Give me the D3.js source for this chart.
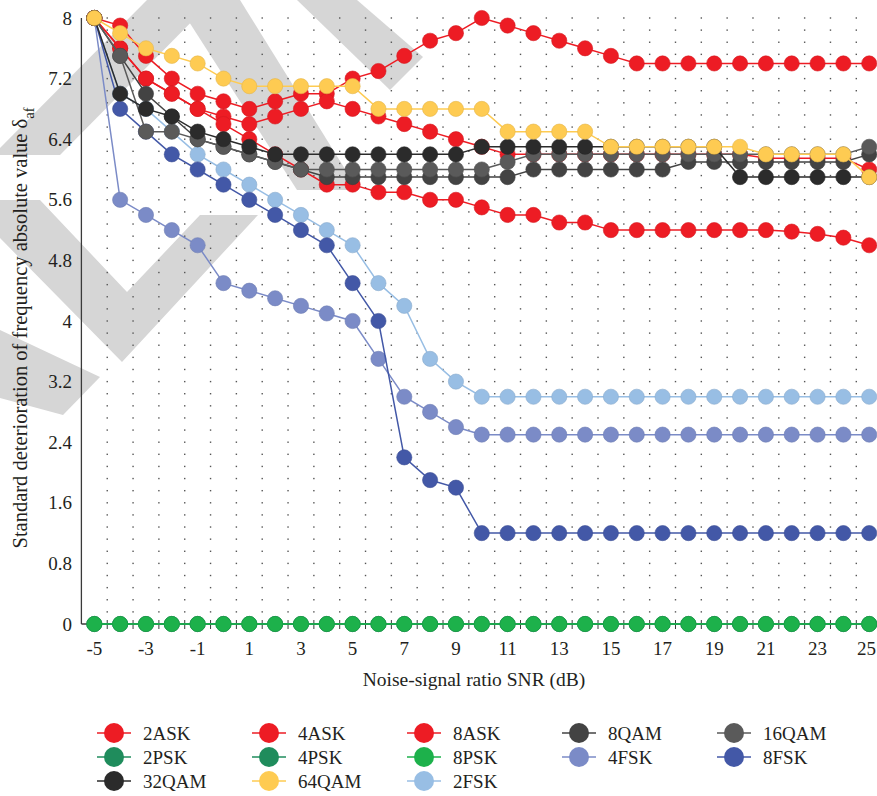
<!DOCTYPE html>
<html>
<head>
<meta charset="utf-8">
<script src="https://cdn.jsdelivr.net/npm/d3@7/dist/d3.min.js"></script>
<style>
  body { margin: 0; background: #fff; }
  svg { display: block; }
  svg text { font-family: "Liberation Serif", "DejaVu Serif", "Times New Roman", serif; fill: #231f20; }
</style>
</head>
<body>
<svg id="chart" width="877" height="796"></svg>
<script>
// SNR categories (dB)
const snr = [-5, -4, -3, -2, -1, 0, 1, 2, 3, 4, 5, 6, 7, 8, 9, 10, 11, 12, 13, 14, 15, 16, 17, 18, 19, 20, 21, 22, 23, 24, 25];

// Standard deterioration of frequency absolute value per modulation
const ask2  = [8.0, 7.9, 7.5, 7.2, 7.0, 6.9, 6.8, 6.9, 7.0, 7.0, 7.2, 7.3, 7.5, 7.7, 7.8, 8.0, 7.9, 7.8, 7.7, 7.6, 7.5, 7.4, 7.4, 7.4, 7.4, 7.4, 7.4, 7.4, 7.4, 7.4, 7.4];
const ask4  = [8.0, 7.6, 7.2, 7.0, 6.8, 6.7, 6.6, 6.7, 6.8, 6.9, 6.8, 6.7, 6.6, 6.5, 6.4, 6.3, 6.2, 6.2, 6.2, 6.2, 6.2, 6.2, 6.2, 6.2, 6.2, 6.2, 6.15, 6.15, 6.15, 6.15, 6.0];
const ask8  = [8.0, 7.6, 7.2, 7.0, 6.8, 6.6, 6.4, 6.2, 6.0, 5.8, 5.8, 5.7, 5.7, 5.6, 5.6, 5.5, 5.4, 5.4, 5.3, 5.3, 5.2, 5.2, 5.2, 5.2, 5.2, 5.2, 5.2, 5.18, 5.15, 5.1, 5.0];
const qam8  = [8.0, 7.5, 7.0, 6.7, 6.4, 6.3, 6.2, 6.1, 6.0, 5.9, 5.9, 5.9, 5.9, 5.9, 5.9, 5.9, 5.9, 6.0, 6.0, 6.0, 6.0, 6.0, 6.0, 6.1, 6.1, 6.1, 6.1, 6.1, 6.1, 6.1, 6.2];
const qam16 = [8.0, 7.5, 6.5, 6.5, 6.4, 6.3, 6.2, 6.1, 6.0, 6.0, 6.0, 6.0, 6.0, 6.0, 6.0, 6.0, 6.1, 6.2, 6.2, 6.2, 6.2, 6.2, 6.2, 6.2, 6.2, 6.2, 6.2, 6.2, 6.2, 6.2, 6.3];
const psk2  = [0, 0, 0, 0, 0, 0, 0, 0, 0, 0, 0, 0, 0, 0, 0, 0, 0, 0, 0, 0, 0, 0, 0, 0, 0, 0, 0, 0, 0, 0, 0];
const psk4  = [0, 0, 0, 0, 0, 0, 0, 0, 0, 0, 0, 0, 0, 0, 0, 0, 0, 0, 0, 0, 0, 0, 0, 0, 0, 0, 0, 0, 0, 0, 0];
const psk8  = [0, 0, 0, 0, 0, 0, 0, 0, 0, 0, 0, 0, 0, 0, 0, 0, 0, 0, 0, 0, 0, 0, 0, 0, 0, 0, 0, 0, 0, 0, 0];
const fsk4  = [8.0, 5.6, 5.4, 5.2, 5.0, 4.5, 4.4, 4.3, 4.2, 4.1, 4.0, 3.5, 3.0, 2.8, 2.6, 2.5, 2.5, 2.5, 2.5, 2.5, 2.5, 2.5, 2.5, 2.5, 2.5, 2.5, 2.5, 2.5, 2.5, 2.5, 2.5];
const fsk8  = [8.0, 6.8, 6.5, 6.2, 6.0, 5.8, 5.6, 5.4, 5.2, 5.0, 4.5, 4.0, 2.2, 1.9, 1.8, 1.2, 1.2, 1.2, 1.2, 1.2, 1.2, 1.2, 1.2, 1.2, 1.2, 1.2, 1.2, 1.2, 1.2, 1.2, 1.2];
const qam32 = [8.0, 7.0, 6.8, 6.7, 6.5, 6.4, 6.3, 6.2, 6.2, 6.2, 6.2, 6.2, 6.2, 6.2, 6.2, 6.3, 6.3, 6.3, 6.3, 6.3, 6.3, 6.3, 6.3, 6.3, 6.3, 5.9, 5.9, 5.9, 5.9, 5.9, 5.9];
const qam64 = [8.0, 7.8, 7.6, 7.5, 7.4, 7.2, 7.1, 7.1, 7.1, 7.1, 7.1, 6.8, 6.8, 6.8, 6.8, 6.8, 6.5, 6.5, 6.5, 6.5, 6.3, 6.3, 6.3, 6.3, 6.3, 6.3, 6.2, 6.2, 6.2, 6.2, 5.9];
const fsk2  = [8.0, 7.0, 6.8, 6.5, 6.2, 6.0, 5.8, 5.6, 5.4, 5.2, 5.0, 4.5, 4.2, 3.5, 3.2, 3.0, 3.0, 3.0, 3.0, 3.0, 3.0, 3.0, 3.0, 3.0, 3.0, 3.0, 3.0, 3.0, 3.0, 3.0, 3.0];

// Axis tick labels
const yTicks = [0, 0.8, 1.6, 2.4, 3.2, 4, 4.8, 5.6, 6.4, 7.2, 8];
const xTickLabels = [-5, -3, -1, 1, 3, 5, 7, 9, 11, 13, 15, 17, 19, 21, 23, 25];

// Series in legend order, with their colours
const legendOrder = [
  { name: "2ASK",  values: ask2,  color: "#ed1c24" },
  { name: "4ASK",  values: ask4,  color: "#ed1c24" },
  { name: "8ASK",  values: ask8,  color: "#ed1c24" },
  { name: "8QAM",  values: qam8,  color: "#434343" },
  { name: "16QAM", values: qam16, color: "#5a5a5a" },
  { name: "2PSK",  values: psk2,  color: "#1f8c5c" },
  { name: "4PSK",  values: psk4,  color: "#1f8c5c" },
  { name: "8PSK",  values: psk8,  color: "#1db14b" },
  { name: "4FSK",  values: fsk4,  color: "#7b8bc7" },
  { name: "8FSK",  values: fsk8,  color: "#4358a7" },
  { name: "32QAM", values: qam32, color: "#2b2b2b" },
  { name: "64QAM", values: qam64, color: "#fecb52" },
  { name: "2FSK",  values: fsk2,  color: "#98bee4" }
];
// Painting order (bottom to top)
const drawOrder = ["2PSK", "4PSK", "8PSK", "2FSK", "4FSK", "8FSK", "2ASK", "4ASK", "8ASK", "8QAM", "16QAM", "32QAM", "64QAM"];

const svg = d3.select("#chart");
const W = 877, H = 796;

// background watermark shapes
const wm = svg.append("g").attr("fill", "#d6d6d6");
const shapes = [
  [[147,0],[213,0],[60,155],[0,155],[0,148]],
  [[175,0],[240,0],[358,190],[297,190]],
  [[297,0],[357,0],[423,57],[390,90]],
  [[0,200],[40,200],[127,292],[200,215],[258,215],[122,362],[0,238]],
  [[0,330],[100,377],[63,415],[0,398]]
];
shapes.forEach(p => wm.append("polygon").attr("points", p.map(d => d.join(",")).join(" ")));

// scales
const x = d3.scaleBand().domain(snr).range([81.4, 81.4 + 31 * 25.83]).padding(0);
const cx = v => x(v) + x.bandwidth() / 2;
const y = d3.scaleLinear().domain([0, 8]).range([624, 18]);

// dotted grid: dots at category boundaries on every minor step
const grid = svg.append("g").attr("fill", "#555");
const minorSteps = d3.range(1, 51).map(i => i * 0.16);
snr.slice(1).forEach(s => {
  const gx = x(s);
  minorSteps.forEach(v => {
    grid.append("rect").attr("x", gx - 0.7).attr("y", y(v) - 0.7).attr("width", 1.4).attr("height", 1.4);
  });
});

// axes
const axisColor = "#3a3a3a";
svg.append("line").attr("x1", 81.4).attr("x2", 81.4).attr("y1", y(8)).attr("y2", y(0))
  .attr("stroke", axisColor).attr("stroke-width", 1.3);
svg.append("line").attr("x1", 81.4).attr("x2", W).attr("y1", y(0)).attr("y2", y(0))
  .attr("stroke", axisColor).attr("stroke-width", 1.3);
svg.append("g").selectAll("line").data(snr.slice(1)).join("line")
  .attr("x1", d => x(d)).attr("x2", d => x(d))
  .attr("y1", y(0) - 4).attr("y2", y(0) + 5)
  .attr("stroke", axisColor).attr("stroke-width", 1);

svg.append("g").selectAll("text").data(yTicks).join("text")
  .attr("x", 72).attr("y", d => y(d)).attr("dy", "0.35em")
  .attr("text-anchor", "end").attr("font-size", 19).text(d => d);

// x labels; the last one is kept inside the right edge
const lastX = xTickLabels[xTickLabels.length - 1];
svg.append("g").selectAll("text").data(xTickLabels).join("text")
  .attr("x", d => d === lastX ? W - 1 : cx(d)).attr("y", y(0) + 24).attr("dy", "0.35em")
  .attr("text-anchor", d => d === lastX ? "end" : "middle").attr("font-size", 19).text(d => d);

svg.append("text").attr("x", 474).attr("y", 679).attr("dy", "0.35em")
  .attr("text-anchor", "middle").attr("font-size", 19.5).text("Noise-signal ratio SNR (dB)");

const yt = svg.append("text").attr("transform", "translate(20,328) rotate(-90)")
  .attr("text-anchor", "middle").attr("dy", "0.35em").attr("font-size", 20.5);
yt.append("tspan").text("Standard deterioration of frequency absolute value δ");
yt.append("tspan").attr("font-size", 14.5).attr("dy", "0.45em").text("af");

// series
const byName = new Map(legendOrder.map(s => [s.name, s]));
const line = d3.line().x((d, i) => cx(snr[i])).y(d => y(d));
drawOrder.forEach(n => {
  const s = byName.get(n);
  const g = svg.append("g");
  g.append("path").attr("d", line(s.values)).attr("fill", "none")
    .attr("stroke", s.color).attr("stroke-width", 1.5);
  g.selectAll("circle").data(s.values).join("circle")
    .attr("cx", (d, i) => cx(snr[i])).attr("cy", d => y(d)).attr("r", 7.6)
    .attr("fill", s.color).attr("stroke", d3.color(s.color).darker(0.3)).attr("stroke-width", 0.6);
});

// legend
const leg = svg.append("g");
legendOrder.forEach((s, i) => {
  const col = i % 5, row = Math.floor(i / 5);
  const lx = 97 + col * 155, ly = 733 + row * 24;
  const g = leg.append("g").attr("transform", `translate(${lx},${ly})`);
  g.append("line").attr("x1", 0).attr("x2", 34).attr("stroke", s.color).attr("stroke-width", 1.5);
  g.append("circle").attr("cx", 17).attr("r", 10).attr("fill", s.color);
  g.append("text").attr("x", 46).attr("dy", "0.35em").attr("font-size", 19).text(s.name);
});
</script>
</body>
</html>
